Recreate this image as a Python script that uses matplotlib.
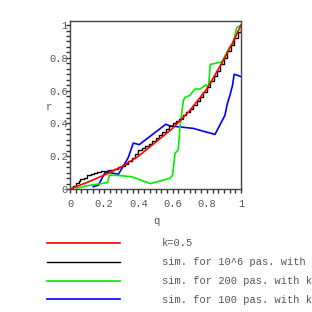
import numpy as np
import matplotlib
matplotlib.use('Agg')
import matplotlib.pyplot as plt
from matplotlib.ticker import MultipleLocator

# k=0.5 curve
q_red = [0, 0.1, 0.2, 0.3, 0.4, 0.5, 0.6, 0.7, 0.8, 0.85, 0.9, 0.95, 1.0]
r_red = [0, 0.04, 0.085, 0.135, 0.2, 0.285, 0.37, 0.478, 0.61, 0.7, 0.79, 0.89, 1.0]

# sim. for 10^6 pas.
q_black = [0, 0.02, 0.035, 0.05, 0.06, 0.08,
           0.10, 0.12, 0.14, 0.16, 0.18, 0.20, 0.22, 0.24, 0.26, 0.28,
           0.30, 0.32, 0.34, 0.36, 0.38, 0.40, 0.42, 0.44, 0.46, 0.48,
           0.50, 0.52, 0.54, 0.56, 0.58, 0.60, 0.62, 0.64, 0.66, 0.68,
           0.70, 0.72, 0.74, 0.76, 0.78, 0.80, 0.82, 0.84, 0.86, 0.88,
           0.90, 0.92, 0.94, 0.96, 0.98, 1.0]
r_black = [0, 0.02, 0.035, 0.05, 0.062, 0.07,
           0.085, 0.094, 0.1, 0.104, 0.11, 0.112, 0.115, 0.118, 0.125, 0.132,
           0.14, 0.155, 0.17, 0.19, 0.215, 0.235, 0.25, 0.26, 0.275, 0.29,
           0.31, 0.33, 0.345, 0.365, 0.385, 0.4, 0.415, 0.43, 0.45, 0.47,
           0.49, 0.51, 0.535, 0.56, 0.59, 0.62, 0.66, 0.69, 0.72, 0.76,
           0.80, 0.84, 0.88, 0.92, 0.96, 1.0]

# sim. for 200 pas.
q_green = [0.04, 0.1, 0.195, 0.22, 0.23, 0.29, 0.36, 0.47, 0.565, 0.585, 0.60,
           0.614, 0.633, 0.643, 0.653, 0.663, 0.673, 0.70, 0.73, 0.76, 0.795,
           0.81, 0.82, 0.887, 0.936, 0.955, 0.965, 0.975, 1.0]
r_green = [0.005, 0.02, 0.035, 0.04, 0.085, 0.082, 0.075, 0.033, 0.06, 0.065, 0.085,
           0.218, 0.238, 0.38, 0.46, 0.54, 0.56, 0.57, 0.61, 0.61, 0.635,
           0.62, 0.76, 0.775, 0.87, 0.89, 0.94, 0.985, 1.0]

# sim. for 100 pas.
q_blue = [0.136, 0.166, 0.205, 0.234, 0.283, 0.34, 0.37, 0.39, 0.404, 0.56, 0.585,
          0.72, 0.848, 0.906, 0.92, 0.936, 0.95, 0.96, 0.99, 1.0]
r_blue = [0.014, 0.024, 0.1, 0.1, 0.09, 0.19, 0.28, 0.275, 0.27, 0.395, 0.385,
          0.37, 0.333, 0.45, 0.52, 0.575, 0.63, 0.70, 0.69, 0.685]

labels = ['k=0.5',
          'sim. for 10^6 pas. with k=0.5',
          'sim. for 200 pas. with k=0.5',
          'sim. for 100 pas. with k=0.5']

font = 'Liberation Mono'
txt_color = '#555555'
fs = 7.5

fig = plt.figure(figsize=(3.12, 3.12), dpi=100)
ax = fig.add_axes([70/312, 1-189/312, 171/312, 168/312])

lb, = ax.plot(q_blue, r_blue, color='#0000ff', lw=1.2)
lg, = ax.plot(q_green, r_green, color='#00ee00', lw=1.2)
lk, = ax.plot(q_black, r_black, color='black', lw=1.0, drawstyle='steps-post')
lr, = ax.plot(q_red, r_red, color='#ff0000', lw=1.2)

ax.set_xlim(0, 1)
ax.set_ylim(0, 1.025)
ax.xaxis.set_major_locator(MultipleLocator(0.2))
ax.yaxis.set_major_locator(MultipleLocator(0.2))
ax.xaxis.set_minor_locator(MultipleLocator(0.2/6))
ax.yaxis.set_minor_locator(MultipleLocator(0.2/6))
ax.xaxis.set_major_formatter(lambda v, p: '%g' % round(v, 2))
ax.yaxis.set_major_formatter(lambda v, p: '%g' % round(v, 2))
ax.tick_params(which='both', direction='out', length=3, width=1, color='#333333',
               labelsize=fs, labelcolor=txt_color)
ax.tick_params(axis='x', pad=4)
ax.tick_params(axis='y', pad=-1.5)
for lab in ax.get_xticklabels() + ax.get_yticklabels():
    lab.set_family(font)
for s in ax.spines.values():
    s.set_color('#444444')
    s.set_linewidth(1)

ax.set_xlabel('q', family=font, fontsize=fs, color=txt_color, va='center')
ax.set_ylabel('r', family=font, fontsize=fs, color=txt_color, rotation=0, va='center', ha='center')
ax.xaxis.set_label_coords(0.503, -0.19)
ax.yaxis.set_label_coords((49-70)/171, (189-107)/168)

fig.legend([lr, lk, lg, lb], labels, loc='upper left', bbox_to_anchor=(47/312, 1-238.5/312),
           frameon=False, borderpad=0, borderaxespad=0, handlelength=7.0,
           handletextpad=4.0, labelspacing=0.85, labelcolor=txt_color,
           prop={'family': font, 'size': fs})

fig.savefig('out.png', dpi=100)
